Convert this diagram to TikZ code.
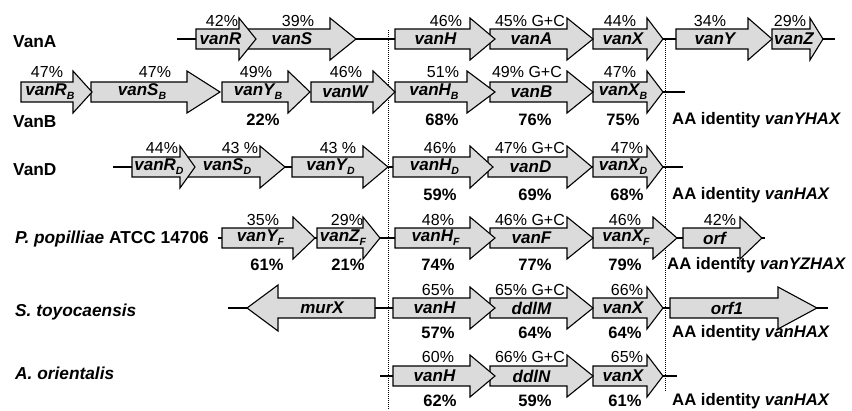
\documentclass[tikz,border=0pt]{standalone}
\usepackage{fontspec}
\setmainfont{Liberation Sans}
\newcommand\gsub[1]{\raisebox{-0.45ex}{\fontsize{10.5}{10.5}\selectfont #1}}
\tikzset{
  genebox/.style={draw=black, line width=1.1pt, fill=black!14, line join=miter},
  genename/.style={inner sep=0pt, font=\fontsize{17}{17}\selectfont\bfseries\itshape},
  pctup/.style={inner sep=0pt, font=\fontsize{16}{16}\selectfont},
  pctdown/.style={inner sep=0pt, font=\fontsize{16.5}{16.5}\selectfont\bfseries},
  species/.style={inner sep=0pt, anchor=west, font=\fontsize{17.3}{17.3}\selectfont\bfseries},
  aaid/.style={inner sep=0pt, anchor=west, font=\fontsize{16.7}{16.7}\selectfont\bfseries},
  backbone/.style={line width=2.8pt},
  divider/.style={line width=0.6pt, dash pattern=on 1pt off 1pt}
}
% #1 name, #2 body start, #3 head start, #4 tip, #5 y, #6 text
\newcommand\gene[6]{%
  \draw[genebox] (#2,#5-10) -- (#3,#5-10) -- (#3,#5-21) -- (#4,#5) -- (#3,#5+21) -- (#3,#5+10) -- (#2,#5+10) -- cycle;
  \node[genename] (#1) at ({(#2+#3)/2+3},#5) {#6};}
\begin{document}
\begin{tikzpicture}[x=1pt,y=-1pt]
\useasboundingbox[fill=white] (0,0) rectangle (852,410);

% dividers
\coordinate (d1t) at (388,30); \coordinate (d1b) at (388,410);
\coordinate (d2t) at (665,38); \coordinate (d2b) at (665,392);
\draw[divider] (d1t) -- (d1b);
\draw[divider] (d2t) -- (d2b);

% ---------- Row 1: VanA ----------
\node[species] (lA) at (13,42) {VanA};
\coordinate (bA1) at (177,39); \coordinate (bA2) at (835,39);
\draw[backbone] (bA1) -- (bA2);
\gene{vanZ}{772}{810}{823}{39}{vanZ}
\gene{vanY}{676}{748}{772}{39}{vanY}
\gene{vanX}{593}{647}{663}{39}{vanX}
\gene{vanA}{490}{567}{593}{39}{vanA}
\gene{vanH}{395}{470}{495}{39}{vanH}
\gene{vanS}{248}{330}{356}{39}{vanS}
\gene{vanR}{196}{239}{256}{39}{vanR}
\node[pctup] (pA1) at (222,21) {42\%};
\node[pctup] (pA2) at (298,21) {39\%};
\node[pctup] (pA3) at (446,21) {46\%};
\node[pctup] (pA4) at (530,21) {45\% G+C};
\node[pctup] (pA5) at (620,21) {44\%};
\node[pctup] (pA6) at (710,21) {34\%};
\node[pctup] (pA7) at (790,21) {29\%};

% ---------- Row 2: VanB ----------
\node[species] (lB) at (13,122) {VanB};
\coordinate (bB1) at (650,92); \coordinate (bB2) at (685,92);
\draw[backbone] (bB1) -- (bB2);
\gene{vanXB}{593}{647}{663}{92}{vanX\gsub{B}}
\gene{vanB}{490}{567}{593}{92}{vanB}
\gene{vanHB}{395}{467}{495}{92}{vanH\gsub{B}}
\gene{vanW}{311}{373}{395}{92}{vanW}
\gene{vanYB}{222}{288}{310}{92}{vanY\gsub{B}}
\gene{vanSB}{91}{187}{220}{92}{vanS\gsub{B}}
\gene{vanRB}{21}{73}{92}{92}{vanR\gsub{B}}
\node[pctup] (pB1) at (47,72) {47\%};
\node[pctup] (pB2) at (155,72) {47\%};
\node[pctup] (pB3) at (256,72) {49\%};
\node[pctup] (pB4) at (346,72) {46\%};
\node[pctup] (pB5) at (443,72) {51\%};
\node[pctup] (pB6) at (527,72) {49\% G+C};
\node[pctup] (pB7) at (620,72) {47\%};
\node[pctdown] (qB1) at (263,120) {22\%};
\node[pctdown] (qB2) at (442,120) {68\%};
\node[pctdown] (qB3) at (535,120) {76\%};
\node[pctdown] (qB4) at (623,120) {75\%};
\node[aaid] (aB) at (672,120) {AA identity \textit{vanYHAX}};

% ---------- Row 3: VanD ----------
\node[species] (lD) at (13,170) {VanD};
\coordinate (bD1) at (113,167); \coordinate (bD2) at (683,167);
\draw[backbone] (bD1) -- (bD2);
\gene{vanXD}{593}{647}{663}{167}{vanX\gsub{D}}
\gene{vanD}{488}{567}{592}{167}{vanD}
\gene{vanHD}{393}{470}{493}{167}{vanH\gsub{D}}
\gene{vanYD}{292}{363}{388}{167}{vanY\gsub{D}}
\gene{vanSD}{188}{260}{285}{167}{vanS\gsub{D}}
\gene{vanRD}{132}{180}{195}{167}{vanR\gsub{D}}
\node[pctup] (pD1) at (162,148) {44\%};
\node[pctup] (pD2) at (240,148) {43 \%};
\node[pctup] (pD3) at (338,148) {43 \%};
\node[pctup] (pD4) at (440,148) {46\%};
\node[pctup] (pD5) at (530,148) {47\% G+C};
\node[pctup] (pD6) at (627,148) {47\%};
\node[pctdown] (qD1) at (440,195) {59\%};
\node[pctdown] (qD2) at (535,195) {69\%};
\node[pctdown] (qD3) at (627,195) {68\%};
\node[aaid] (aD) at (672,195) {AA identity \textit{vanHAX}};

% ---------- Row 4: P. popilliae ----------
\node[species] (lF) at (15,239) {\textit{P. popilliae} ATCC 14706};
\coordinate (bF1) at (218,238); \coordinate (bF2) at (765,238);
\draw[backbone] (bF1) -- (bF2);
\gene{orfF}{683}{740}{762}{238}{orf}
\gene{vanXF}{593}{653}{677}{238}{vanX\gsub{F}}
\gene{vanF}{490}{567}{593}{238}{vanF}
\gene{vanHF}{395}{470}{495}{238}{vanH\gsub{F}}
\gene{vanZF}{317}{363}{380}{238}{vanZ\gsub{F}}
\gene{vanYF}{222}{293}{315}{238}{vanY\gsub{F}}
\node[pctup] (pF1) at (263,220) {35\%};
\node[pctup] (pF2) at (347,220) {29\%};
\node[pctup] (pF3) at (438,220) {48\%};
\node[pctup] (pF4) at (530,220) {46\% G+C};
\node[pctup] (pF5) at (625,220) {46\%};
\node[pctup] (pF6) at (720,220) {42\%};
\node[pctdown] (qF1) at (267,265) {61\%};
\node[pctdown] (qF2) at (348,265) {21\%};
\node[pctdown] (qF3) at (438,265) {74\%};
\node[pctdown] (qF4) at (535,265) {77\%};
\node[pctdown] (qF5) at (625,265) {79\%};
\node[aaid] (aF) at (667,265) {AA identity \textit{vanYZHAX}};

% ---------- Row 5: S. toyocaensis ----------
\node[species] (lS) at (15,312) {\textit{S. toyocaensis}};
\coordinate (bS1) at (228,308); \coordinate (bS2) at (828,308);
\draw[backbone] (bS1) -- (bS2);
\gene{orf1}{670}{778}{817}{308}{orf1}
\gene{vanXS}{593}{647}{663}{308}{vanX}
\gene{ddlM}{490}{567}{593}{308}{ddlM}
\gene{vanHS}{393}{470}{495}{308}{vanH}
\draw[genebox] (375,298) -- (278,298) -- (278,285) -- (247,308) -- (278,331) -- (278,318) -- (375,318) -- cycle;
\node[genename] (murX) at (322,308) {murX};
\node[pctup] (pS1) at (438,290) {65\%};
\node[pctup] (pS2) at (530,290) {65\% G+C};
\node[pctup] (pS3) at (627,290) {66\%};
\node[pctdown] (qS1) at (438,333) {57\%};
\node[pctdown] (qS2) at (535,333) {64\%};
\node[pctdown] (qS3) at (625,333) {64\%};
\node[aaid] (aS) at (672,333) {AA identity \textit{vanHAX}};

% ---------- Row 6: A. orientalis ----------
\node[species] (lO) at (15,373) {\textit{A. orientalis}};
\coordinate (bO1) at (380,376); \coordinate (bO2) at (677,376);
\draw[backbone] (bO1) -- (bO2);
\gene{vanXO}{593}{647}{663}{376}{vanX}
\gene{ddlN}{490}{567}{593}{376}{ddlN}
\gene{vanHO}{393}{470}{495}{376}{vanH}
\node[pctup] (pO1) at (438,357) {60\%};
\node[pctup] (pO2) at (530,357) {66\% G+C};
\node[pctup] (pO3) at (627,357) {65\%};
\node[pctdown] (qO1) at (440,401) {62\%};
\node[pctdown] (qO2) at (535,401) {59\%};
\node[pctdown] (qO3) at (625,401) {61\%};
\node[aaid] (aO) at (672,401) {AA identity \textit{vanHAX}};
\end{tikzpicture}
\end{document}
